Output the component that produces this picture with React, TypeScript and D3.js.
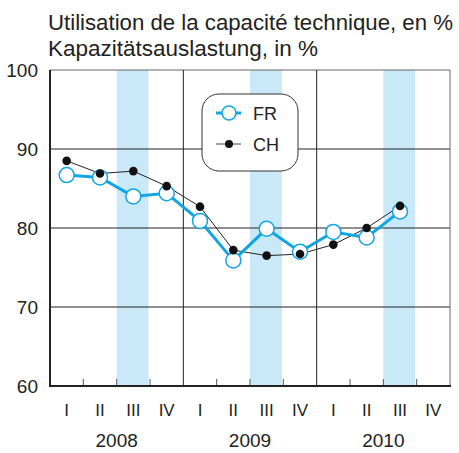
import React from "react";
import * as d3 from "d3";

const quarters = ["I", "II", "III", "IV", "I", "II", "III", "IV", "I", "II", "III", "IV"];
const years = ["2008", "2009", "2010"];
const frValues = [86.7, 86.4, 84.0, 84.4, 80.9, 75.9, 79.9, 77.0, 79.5, 78.8, 82.1];
const chValues = [88.5, 86.9, 87.2, 85.3, 82.7, 77.2, 76.5, 76.7, 77.9, 80.0, 82.8];
const yTicks = [60, 70, 80, 90, 100];
const bandQuarters = [2, 6, 10];
const titleLines = ["Utilisation de la capacité technique, en %", "Kapazitätsauslastung, in %"];

const W = 459, H = 453;
const left = 50, right = 450, top = 70, bottom = 386;
const BLUE = "#12a5e3";
const BAND = "#c9e9f8";
const FONT = "'Liberation Sans', Arial, sans-serif";

export default function App() {
  const x = d3.scaleLinear().domain([0, 12]).range([left, right]);
  const y = d3.scaleLinear().domain([60, 100]).range([bottom, top]);
  const line = d3.line<number>().x((_, i) => x(i + 0.5)).y((d) => y(d));

  return (
    <svg width={W} height={H} style={{ position: "absolute", left: 0, top: 0 }} fontFamily={FONT}>
      <rect width={W} height={H} fill="#fff" />
      {titleLines.map((t, i) => (
        <text key={i} x={48} y={30 + i * 25.5} fontSize={21.5} fill="#222" textLength={i === 0 ? 405 : 270} lengthAdjust="spacingAndGlyphs">{t}</text>
      ))}
      {bandQuarters.map((q) => (
        <rect key={q} x={x(q)} y={top} width={x(q + 1) - x(q) - 1.5} height={bottom - top} fill={BAND} />
      ))}
      {yTicks.filter((v) => v > 60).map((v) => (
        <line key={v} x1={left} x2={right} y1={y(v)} y2={y(v)} stroke={v === 100 ? "#666" : "#222"} strokeWidth={1} />
      ))}
      {[4, 8].map((q) => (
        <line key={q} x1={x(q)} x2={x(q)} y1={top} y2={bottom} stroke="#222" strokeWidth={1} />
      ))}
      <line x1={right} x2={right} y1={top} y2={bottom} stroke="#666" strokeWidth={1} />
      {d3.range(1, 12).filter((q) => q % 4 !== 0).map((q) => (
        <line key={q} x1={x(q)} x2={x(q)} y1={bottom - 7} y2={bottom} stroke="#555" strokeWidth={1} />
      ))}
      <line x1={left} x2={left} y1={top} y2={bottom + 1} stroke="#222" strokeWidth={2} />
      <line x1={left - 1} x2={right + 1} y1={bottom} y2={bottom} stroke="#222" strokeWidth={2} />
      {yTicks.map((v) => (
        <text key={v} x={38} y={y(v) + 6.5} fontSize={19} textAnchor="end" fill="#222">{v}</text>
      ))}
      {quarters.map((q, i) => (
        <text key={i} x={x(i + 0.5)} y={416} fontSize={17} textAnchor="middle" fill="#222">{q}</text>
      ))}
      {years.map((yr, i) => (
        <text key={yr} x={x(i * 4 + 2)} y={447} fontSize={19} textAnchor="middle" fill="#222">{yr}</text>
      ))}
      {/* legend */}
      <rect x={202} y={94} width={96} height={77} rx={17} ry={17} fill="#fff" stroke="#333" strokeWidth={1} />
      <line x1={216} x2={241} y1={113} y2={113} stroke={BLUE} strokeWidth={3} />
      <circle cx={229} cy={113} r={7} fill="#fff" stroke={BLUE} strokeWidth={1.5} />
      <text x={253} y={120} fontSize={18} fill="#222">FR</text>
      <line x1={216} x2={241} y1={144} y2={144} stroke="#444" strokeWidth={1} />
      <circle cx={229} cy={144} r={4} fill="#111" />
      <text x={253} y={151} fontSize={18} fill="#222">CH</text>
      {/* series */}
      <path d={line(chValues) || ""} fill="none" stroke="#222" strokeWidth={1} />
      <path d={line(frValues) || ""} fill="none" stroke={BLUE} strokeWidth={3} />
      {frValues.map((v, i) => (
        <circle key={"fr" + i} cx={x(i + 0.5)} cy={y(v)} r={7.5} fill="#fff" stroke={BLUE} strokeWidth={1.5} />
      ))}
      {chValues.map((v, i) => (
        <circle key={"ch" + i} cx={x(i + 0.5)} cy={y(v)} r={4.3} fill="#111" />
      ))}
    </svg>
  );
}
